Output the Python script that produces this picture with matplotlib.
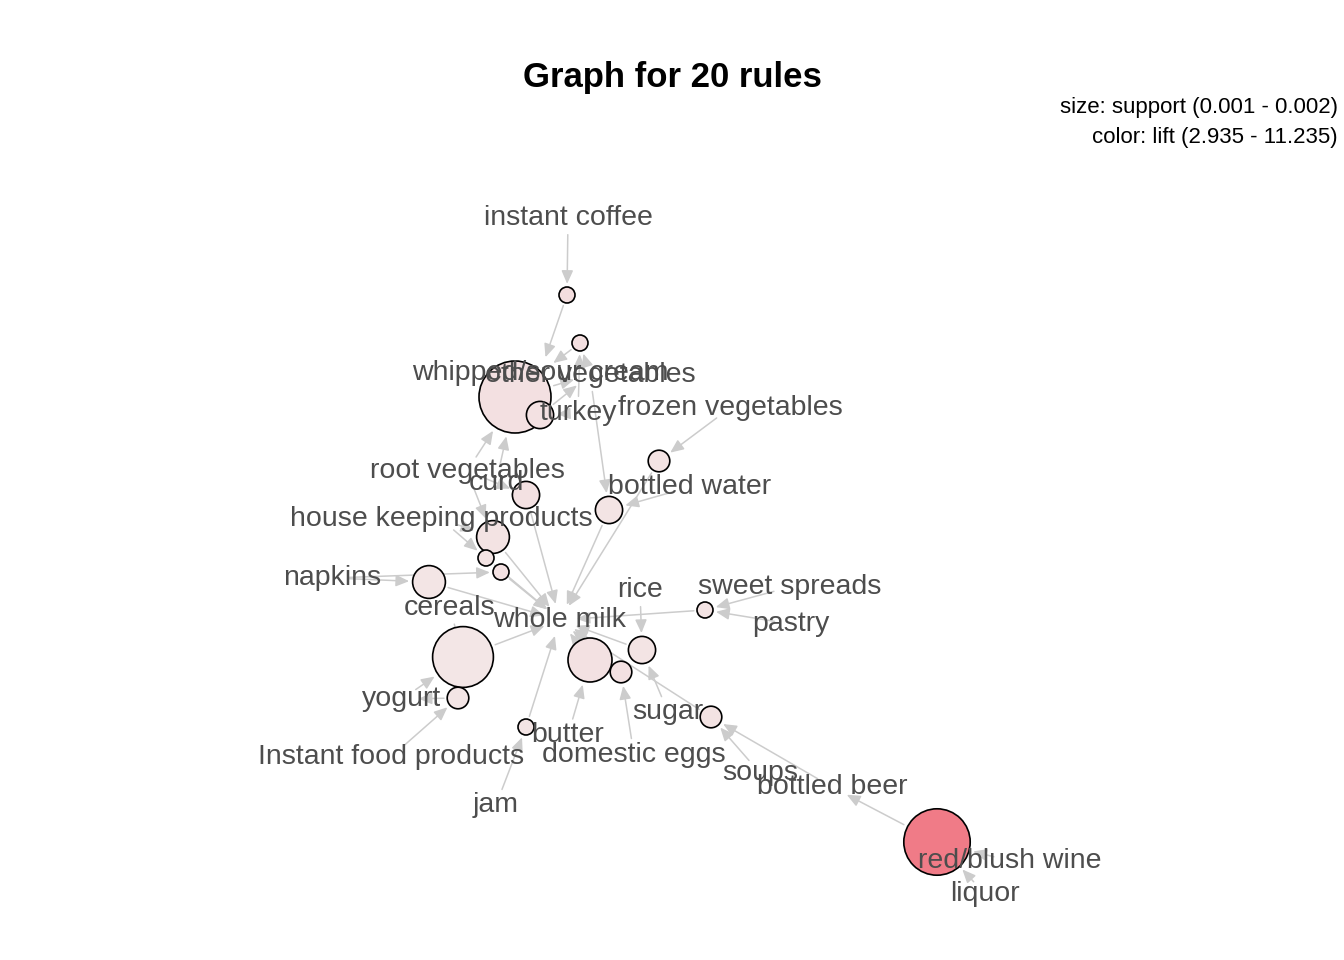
import matplotlib
matplotlib.use("Agg")
import matplotlib.pyplot as plt
from matplotlib.patches import Circle
import numpy as np

plt.rcParams["font.family"] = ["Liberation Sans", "DejaVu Sans"]

# rule nodes (layout position in px, support, lift)
rule_x = [567, 580, 515, 540, 659, 526, 609, 493, 486, 501, 429, 705, 463, 590, 642, 621, 458, 526, 711, 937]
rule_y = [295, 343, 397, 415, 461, 495, 510, 537, 558, 572, 582, 610, 657, 660, 650, 672, 698, 727, 717, 842]
rule_support = [0.0010, 0.0010, 0.0020, 0.0012, 0.0011, 0.0012, 0.0012, 0.0013, 0.0010, 0.0010,
                0.0013, 0.0010, 0.0018, 0.0015, 0.0012, 0.0011, 0.0011, 0.0010, 0.0011, 0.0019]
rule_lift = [3.6, 3.5, 3.4, 3.3, 3.2, 3.3, 3.1, 3.2, 3.2, 3.3, 3.0, 3.2, 2.935, 3.3, 3.1, 3.3, 3.0, 3.1, 3.2, 11.235]

items = ["instant coffee", "whipped/sour cream", "other vegetables", "turkey", "frozen vegetables",
         "root vegetables", "curd", "bottled water", "house keeping products", "napkins", "cereals",
         "whole milk", "rice", "sweet spreads", "pastry", "yogurt", "Instant food products", "butter",
         "domestic eggs", "sugar", "jam", "soups", "bottled beer", "red/blush wine", "liquor"]
item_x = [568, 540, 590, 578, 730, 467, 496, 690, 441, 332, 450, 560, 640, 790, 791, 402, 391, 568,
          634, 668, 496, 760, 832, 1010, 985]
item_y = [218, 373, 375, 413, 408, 471, 483, 487, 519, 578, 608, 620, 590, 587, 624, 699, 757, 735,
          755, 712, 805, 773, 787, 861, 894]

# edges: lhs items -> rule, rule -> rhs item
lhs = {1: ["instant coffee"], 2: ["turkey", "other vegetables"], 3: ["root vegetables", "curd"],
       4: ["turkey"], 5: ["frozen vegetables"], 6: ["curd", "root vegetables"],
       7: ["bottled water", "other vegetables"], 8: ["house keeping products", "root vegetables"],
       9: ["house keeping products"], 10: ["napkins"], 11: ["napkins"], 12: ["sweet spreads", "pastry"],
       13: ["cereals", "yogurt"], 14: ["butter"], 15: ["rice", "sugar"], 16: ["domestic eggs"],
       17: ["Instant food products"], 18: ["jam"], 19: ["soups", "bottled beer"],
       20: ["liquor", "red/blush wine"]}
rhs = {1: "whipped/sour cream", 2: "whipped/sour cream", 3: "other vegetables", 4: "other vegetables",
       5: "whole milk", 6: "whole milk", 7: "whole milk", 8: "whole milk", 9: "whole milk",
       10: "whole milk", 11: "whole milk", 12: "whole milk", 13: "whole milk", 14: "whole milk",
       15: "whole milk", 16: "whole milk", 17: "yogurt", 18: "whole milk", 19: "whole milk",
       20: "bottled beer"}

fig = plt.figure(figsize=(13.44, 9.6), dpi=100)
ax = fig.add_axes([0, 0, 1, 1])
ax.set_xlim(0, 1344)
ax.set_ylim(960, 0)
ax.axis("off")

pos = {n: (x, y) for n, x, y in zip(items, item_x, item_y)}
sup = np.array(rule_support)
radius = 8 + (sup - sup.min()) / (sup.max() - sup.min()) * 28
lift = np.array(rule_lift)
t = (lift - lift.min()) / (lift.max() - lift.min())
c0 = np.array([0xf3, 0xe6, 0xe6]) / 255
c1 = np.array([0xf0, 0x7b, 0x87]) / 255

ekw = dict(arrowstyle="-|>,head_length=0.8,head_width=0.35", color="#cccccc", lw=1.1)
for i in range(20):
    rp = (rule_x[i], rule_y[i])
    for it in lhs[i + 1]:
        ax.annotate("", xy=rp, xytext=pos[it],
                    arrowprops=dict(**ekw, shrinkA=12, shrinkB=radius[i] * 0.75 + 2), zorder=1)
    ax.annotate("", xy=pos[rhs[i + 1]], xytext=rp,
                arrowprops=dict(**ekw, shrinkA=radius[i] * 0.75 + 2, shrinkB=12), zorder=1)

for i in range(20):
    col = c0 + (c1 - c0) * t[i]
    ax.add_patch(Circle((rule_x[i], rule_y[i]), radius[i], facecolor=col,
                        edgecolor="black", lw=1.2, zorder=2))

for n, x, y in zip(items, item_x, item_y):
    ax.text(x, y, n, ha="center", va="center", fontsize=20.5, color="#4d4d4d", zorder=3)

ax.text(672, 78, "Graph for 20 rules", ha="center", va="center", fontsize=25, fontweight="bold")
ax.text(1338, 108, "size: support (0.001 - 0.002)", ha="right", va="center", fontsize=16)
ax.text(1338, 137, "color: lift (2.935 - 11.235)", ha="right", va="center", fontsize=16)

fig.savefig("out.png", dpi=100)
